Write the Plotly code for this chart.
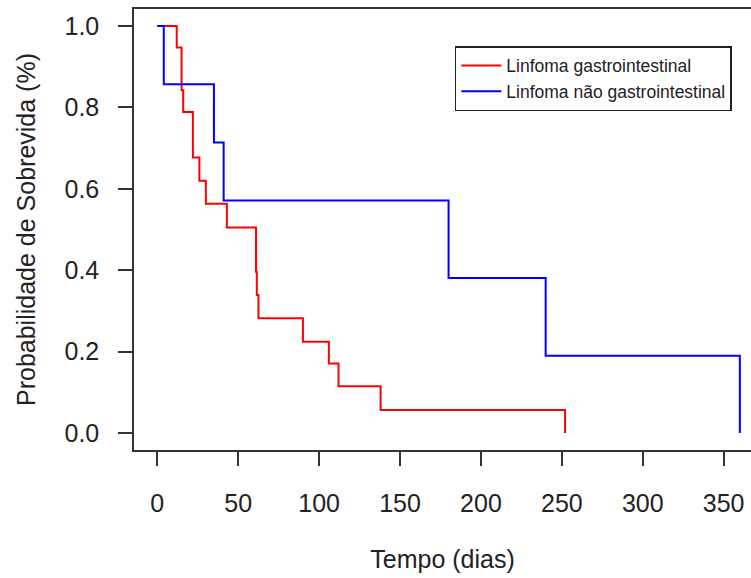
import plotly.graph_objects as go

# Kaplan-Meier estimates
red_name = "Linfoma gastrointestinal"
red_time = [0, 12, 15, 16, 22, 26, 30, 43, 61, 61.5, 62.5, 90, 106, 112, 138, 252]
red_surv = [1.0, 0.947, 0.842, 0.789, 0.677, 0.620, 0.563, 0.505, 0.396, 0.339,
            0.282, 0.224, 0.171, 0.115, 0.0565, 0.0]

blue_name = "Linfoma não gastrointestinal"
blue_time = [0, 4, 35, 41, 180, 240, 360]
blue_surv = [1.0, 0.857, 0.714, 0.571, 0.381, 0.190, 0.0]

x_ticks = [0, 50, 100, 150, 200, 250, 300, 350]
y_ticks = [0.0, 0.2, 0.4, 0.6, 0.8, 1.0]

FONT = "Liberation Sans, Arial, sans-serif"

fig = go.Figure()
fig.add_trace(go.Scatter(x=red_time, y=red_surv, mode="lines", name=red_name,
                         line=dict(color="#FF0000", width=2, shape="hv")))
fig.add_trace(go.Scatter(x=blue_time, y=blue_surv, mode="lines", name=blue_name,
                         line=dict(color="#0000FF", width=2, shape="hv")))

fig.update_layout(
    width=751, height=578,
    margin=dict(l=134, r=0, t=9, b=128),
    paper_bgcolor="white", plot_bgcolor="white",
    font=dict(family=FONT, size=25, color="#222"),
    showlegend=True,
    legend=dict(x=0.52, y=0.916, xanchor="left", yanchor="top",
                bgcolor="white", bordercolor="#222", borderwidth=1.5,
                font=dict(family=FONT, size=17.5, color="#222"),
                itemwidth=40, tracegroupgap=0),
    xaxis=dict(range=[-14.4, 366.9], tickvals=x_ticks, ticktext=[str(v) for v in x_ticks],
               showgrid=False, zeroline=False, showline=True, mirror=True,
               linecolor="#333", linewidth=1.5, ticks="outside", ticklen=14,
               tickwidth=1.5, tickcolor="#333", ticklabelstandoff=16,
               title=dict(text="Tempo (dias)", standoff=35,
                          font=dict(family=FONT, size=25, color="#222"))),
    yaxis=dict(range=[-0.0418, 1.0418], tickvals=y_ticks, ticktext=[f"{v:.1f}" for v in y_ticks],
               showgrid=False, zeroline=False, showline=True, mirror=False,
               linecolor="#333", linewidth=1.5, ticks="outside", ticklen=14,
               tickwidth=1.5, tickcolor="#333", ticklabelstandoff=14,
               title=dict(text="Probabilidade de Sobrevida (%)", standoff=22,
                          font=dict(family=FONT, size=25, color="#222"))),
)

fig.write_html("out.html")
